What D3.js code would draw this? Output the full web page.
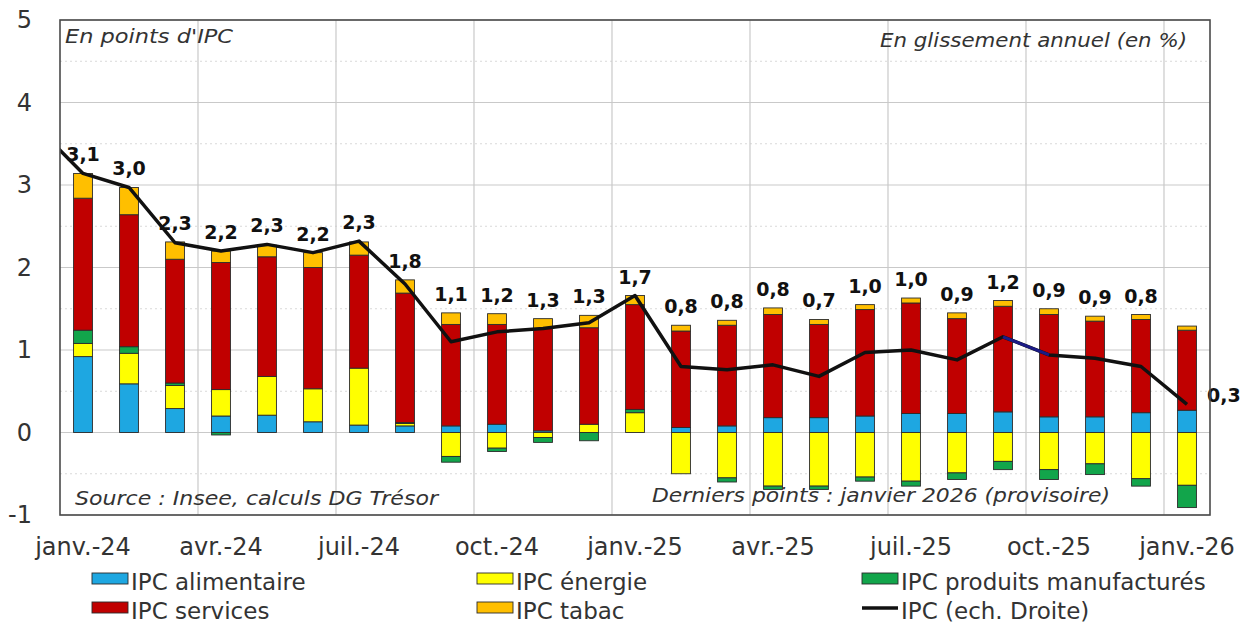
<!DOCTYPE html>
<html lang="fr">
<head>
<meta charset="utf-8">
<title>Contributions à l'inflation</title>
<script src="https://cdn.jsdelivr.net/npm/d3@7"></script>
<style>
  body { margin: 0; background: #fff; }
  svg { display: block; font-family: 'DejaVu Sans', sans-serif; }
</style>
</head>
<body>
<svg id="chart"></svg>
<script>
// ------------------------------- DATA below ----------------------------------------------

const months = [
  'janv.-24', 'févr.-24', 'mars-24', 'avr.-24', 'mai-24', 'juin-24', 'juil.-24', 'août-24',
  'sept.-24', 'oct.-24', 'nov.-24', 'déc.-24', 'janv.-25', 'févr.-25', 'mars-25', 'avr.-25',
  'mai-25', 'juin-25', 'juil.-25', 'août-25', 'sept.-25', 'oct.-25', 'nov.-25', 'déc.-25', 'janv.-26'
];
const tickMonths = ['janv.-24', 'avr.-24', 'juil.-24', 'oct.-24', 'janv.-25', 'avr.-25', 'juil.-25', 'oct.-25', 'janv.-26'];

// Contributions (en points d'IPC)
const alimentaire = [0.92, 0.59, 0.29, 0.20, 0.21, 0.13, 0.09, 0.08, 0.08, 0.10, 0.02, 0.00, 0.00,
  0.06, 0.08, 0.18, 0.18, 0.20, 0.23, 0.23, 0.25, 0.19, 0.19, 0.24, 0.27];
const energie = [0.16, 0.37, 0.28, 0.32, 0.47, 0.40, 0.69, 0.03, -0.29, -0.19, -0.06, 0.10, 0.24,
  -0.50, -0.55, -0.65, -0.65, -0.54, -0.59, -0.49, -0.35, -0.45, -0.38, -0.56, -0.64];
const manufactures = [0.16, 0.08, 0.03, -0.03, 0.00, 0.00, 0.00, 0.01, -0.07, -0.04, -0.06, -0.10, 0.04,
  0.00, -0.05, -0.04, -0.04, -0.05, -0.06, -0.08, -0.10, -0.12, -0.13, -0.09, -0.27];
const services = [1.60, 1.60, 1.50, 1.54, 1.45, 1.47, 1.37, 1.57, 1.23, 1.21, 1.24, 1.17, 1.27,
  1.17, 1.22, 1.25, 1.13, 1.29, 1.34, 1.15, 1.28, 1.24, 1.16, 1.13, 0.97];
const tabac = [0.30, 0.33, 0.21, 0.14, 0.14, 0.18, 0.16, 0.16, 0.14, 0.13, 0.12, 0.15, 0.11,
  0.07, 0.06, 0.08, 0.06, 0.06, 0.06, 0.07, 0.07, 0.07, 0.06, 0.06, 0.05];

// IPC en glissement annuel (%) - plus the december 2023 point the line starts from
const ipcDec23 = 3.7;
const ipc = [3.14, 2.97, 2.30, 2.20, 2.28, 2.18, 2.32, 1.80, 1.10, 1.22, 1.26, 1.33, 1.66,
  0.80, 0.76, 0.82, 0.68, 0.97, 1.00, 0.88, 1.16, 0.94, 0.90, 0.80, 0.34];

const yTicks = [-1, 0, 1, 2, 3, 4, 5];

// ------------------------------- SETUP below ----------------------------------------------

const width = 1249;
const height = 626;
const plot = { left: 60, top: 20, right: 1210, bottom: 515 };

const series = [
  { key: 'alimentaire', label: 'IPC alimentaire', color: '#1ea7e1', values: alimentaire },
  { key: 'energie', label: 'IPC énergie', color: '#ffff00', values: energie },
  { key: 'manufactures', label: 'IPC produits manufacturés', color: '#12a54b', values: manufactures },
  { key: 'services', label: 'IPC services', color: '#c00000', values: services },
  { key: 'tabac', label: 'IPC tabac', color: '#ffbf00', values: tabac }
];

// one row per month, as d3.stack wants it
const table = months.map((m, i) => {
  const row = { month: m };
  series.forEach((s) => (row[s.key] = s.values[i]));
  return row;
});

const svg = d3.select('#chart').attr('width', width).attr('height', height);

const x = d3
  .scaleBand()
  .domain(months)
  .range([plot.left, plot.right])
  .paddingInner(0.59)
  .paddingOuter(0.295);

const y = d3.scaleLinear().domain([-1, 5]).range([plot.bottom, plot.top]);

const cx = (m) => x(m) + x.bandwidth() / 2;

svg.append('defs')
  .append('clipPath')
  .attr('id', 'plot-clip')
  .append('rect')
  .attr('x', plot.left)
  .attr('y', plot.top)
  .attr('width', plot.right - plot.left)
  .attr('height', plot.bottom - plot.top);

// ------------------------------- GRID below ----------------------------------------------

const grid = svg.append('g').attr('class', 'grid');

// dotted half-unit lines
grid.selectAll('line.half')
  .data(d3.range(-0.5, 5, 1))
  .join('line')
  .attr('class', 'half')
  .attr('x1', plot.left)
  .attr('x2', plot.right)
  .attr('y1', (d) => y(d))
  .attr('y2', (d) => y(d))
  .attr('stroke', '#d9d9d9')
  .attr('stroke-dasharray', '2,3');

grid.selectAll('line.major')
  .data(yTicks)
  .join('line')
  .attr('class', 'major')
  .attr('x1', plot.left)
  .attr('x2', plot.right)
  .attr('y1', (d) => y(d))
  .attr('y2', (d) => y(d))
  .attr('stroke', '#c9c9c9')
  .attr('stroke-width', 1.2);

// vertical lines between quarters
grid.selectAll('line.vert')
  .data(tickMonths.slice(1))
  .join('line')
  .attr('class', 'vert')
  .attr('x1', (m) => cx(m) - x.step() / 2)
  .attr('x2', (m) => cx(m) - x.step() / 2)
  .attr('y1', plot.top)
  .attr('y2', plot.bottom)
  .attr('stroke', '#c9c9c9')
  .attr('stroke-width', 1.2);

// ------------------------------- BARS below ----------------------------------------------

const stacked = d3
  .stack()
  .keys(series.map((s) => s.key))
  .offset(d3.stackOffsetDiverging)(table);

svg.append('g')
  .attr('class', 'bars')
  .selectAll('g')
  .data(stacked)
  .join('g')
  .attr('fill', (d, i) => series[i].color)
  .selectAll('rect')
  .data((d) => d.filter((p) => p[1] !== p[0]))
  .join('rect')
  .attr('x', (p) => x(p.data.month))
  .attr('width', x.bandwidth())
  .attr('y', (p) => y(Math.max(p[0], p[1])))
  .attr('height', (p) => Math.abs(y(p[0]) - y(p[1])))
  .attr('stroke', '#2b2b2b')
  .attr('stroke-width', 0.9);

// ------------------------------- LINE below ----------------------------------------------

const linePoints = [[cx(months[0]) - x.step(), ipcDec23]].concat(
  months.map((m, i) => [cx(m), ipc[i]])
);

const line = d3.line().x((d) => d[0]).y((d) => y(d[1]));

svg.append('path')
  .datum(linePoints)
  .attr('clip-path', 'url(#plot-clip)')
  .attr('d', line)
  .attr('fill', 'none')
  .attr('stroke', '#111')
  .attr('stroke-width', 3.5)
  .attr('stroke-linejoin', 'round');

// the sept.-25 -> oct.-25 segment is drawn in navy in the original
svg.append('path')
  .datum([linePoints[21], linePoints[22]])
  .attr('d', line)
  .attr('fill', 'none')
  .attr('stroke', '#1b1b86')
  .attr('stroke-width', 3);

// ------------------------------- LABELS below ----------------------------------------------

const fmt = (v) => v.toFixed(1).replace('.', ',');
const barTop = (i) => stacked[stacked.length - 1][i][1];

svg.append('g')
  .attr('class', 'labels')
  .selectAll('text')
  .data(months)
  .join('text')
  .attr('x', (m, i) => (i === months.length - 1 ? cx(m) + 20 : cx(m)))
  .attr('y', (m, i) =>
    i === months.length - 1 ? y(ipc[i]) - 2 : Math.min(y(barTop(i)), y(ipc[i])) - 12
  )
  .attr('text-anchor', (m, i) => (i === months.length - 1 ? 'start' : 'middle'))
  .attr('font-size', 19)
  .attr('font-weight', 'bold')
  .attr('fill', '#111')
  .text((m, i) => fmt(ipc[i]));

// ------------------------------- AXES below ----------------------------------------------

// plot frame
svg.append('rect')
  .attr('x', plot.left)
  .attr('y', plot.top)
  .attr('width', plot.right - plot.left)
  .attr('height', plot.bottom - plot.top)
  .attr('fill', 'none')
  .attr('stroke', '#4a4a4a')
  .attr('stroke-width', 1.6);

const yAxis = svg.append('g')
  .attr('transform', `translate(${plot.left},0)`)
  .call(d3.axisLeft(y).tickValues(yTicks).tickSize(0).tickPadding(28).tickFormat((d) => String(d)));
yAxis.select('.domain').remove();
yAxis.selectAll('text')
  .attr('font-family', 'DejaVu Sans, sans-serif')
  .attr('font-size', 24)
  .attr('fill', '#333');

const xAxis = svg.append('g')
  .attr('transform', `translate(0,${plot.bottom})`)
  .call(d3.axisBottom(x).tickValues(tickMonths).tickSize(0).tickPadding(23));
xAxis.select('.domain').remove();
xAxis.selectAll('text')
  .attr('font-family', 'DejaVu Sans, sans-serif')
  .attr('font-size', 24)
  .attr('fill', '#333');

// ------------------------------- NOTES below ----------------------------------------------

const notes = [
  { text: "En points d'IPC", x: 65, y: 43, anchor: 'start', w: 168 },
  { text: 'En glissement annuel (en %)', x: 1187, y: 47, anchor: 'end', w: 307 },
  { text: 'Source : Insee, calculs DG Trésor', x: 75, y: 505, anchor: 'start', w: 363 },
  { text: 'Derniers points : janvier 2026 (provisoire)', x: 1110, y: 502, anchor: 'end', w: 458 }
];

svg.append('g')
  .selectAll('text')
  .data(notes)
  .join('text')
  .attr('x', (d) => d.x)
  .attr('y', (d) => d.y)
  .attr('text-anchor', (d) => d.anchor)
  .attr('textLength', (d) => d.w)
  .attr('lengthAdjust', 'spacingAndGlyphs')
  .attr('font-size', 20)
  .attr('font-style', 'italic')
  .attr('fill', '#333')
  .text((d) => d.text);

// ------------------------------- LEGEND below ----------------------------------------------

const legendItems = [
  series[0], series[1], series[2],
  series[3], series[4], { label: 'IPC (ech. Droite)', color: '#111', isLine: true }
];
const colX = [92, 477, 862];
const rowY = [590, 619];

const legend = svg.append('g')
  .selectAll('g')
  .data(legendItems)
  .join('g')
  .attr('transform', (d, i) => `translate(${colX[i % 3]},${rowY[Math.floor(i / 3)]})`);

legend.filter((d) => !d.isLine)
  .append('rect')
  .attr('x', 0)
  .attr('y', -17)
  .attr('width', 36)
  .attr('height', 11)
  .attr('fill', (d) => d.color)
  .attr('stroke', '#2b2b2b')
  .attr('stroke-width', 0.9);

legend.filter((d) => d.isLine)
  .append('line')
  .attr('x1', 0)
  .attr('x2', 36)
  .attr('y1', -11)
  .attr('y2', -11)
  .attr('stroke', '#111')
  .attr('stroke-width', 3.5);

legend.append('text')
  .attr('x', 39)
  .attr('y', 0)
  .attr('font-size', 23)
  .attr('fill', '#333')
  .text((d) => d.label);
</script>
</body>
</html>
